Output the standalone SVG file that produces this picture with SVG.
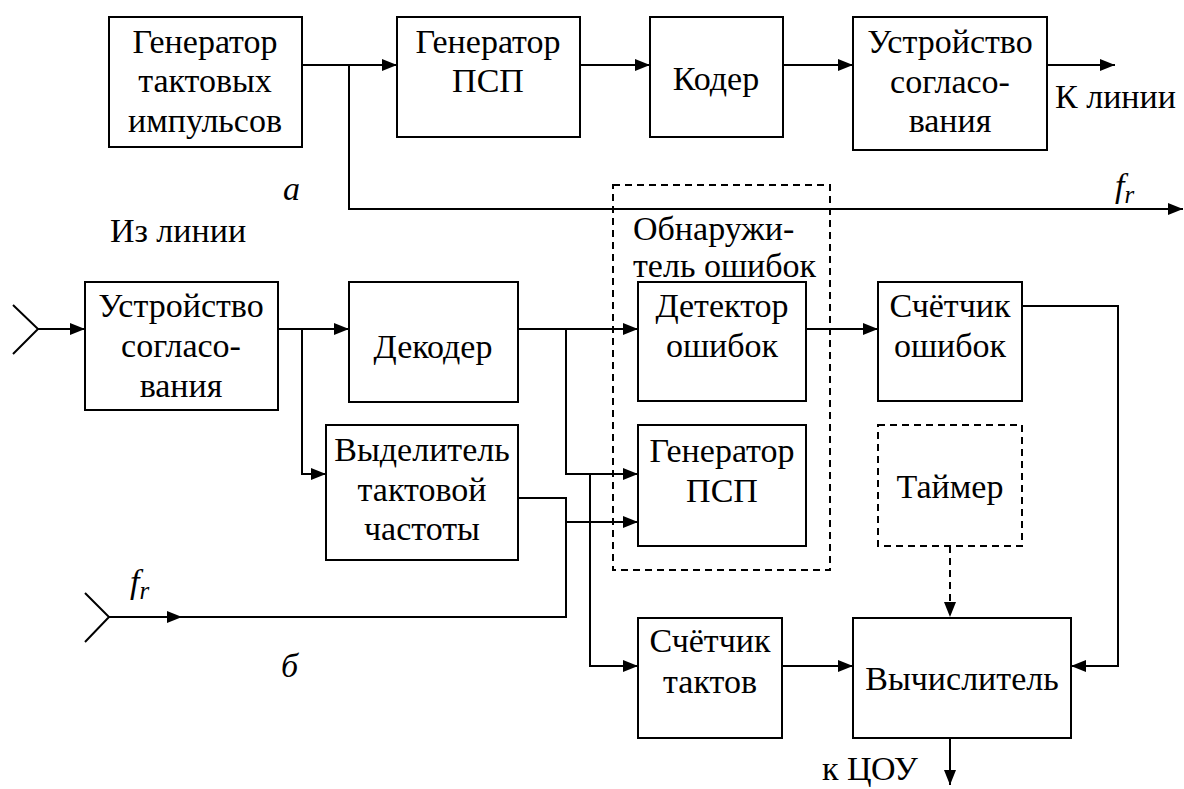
<svg xmlns="http://www.w3.org/2000/svg" width="1184" height="789" viewBox="0 0 1184 789">
<defs>
<marker id="arr" markerWidth="16" markerHeight="12" refX="15" refY="6" orient="auto" markerUnits="userSpaceOnUse">
<path d="M0,0 L15,6 L0,12 z" fill="#000"/>
</marker>
<style>
.box{fill:#fff;stroke:#000;stroke-width:2}
.dbox{fill:none;stroke:#000;stroke-width:2;stroke-dasharray:7,5}
.ln{fill:none;stroke:#000;stroke-width:2}
.dl{fill:none;stroke:#000;stroke-width:2;stroke-dasharray:7,5}
text{font-family:"Times New Roman","Liberation Serif",Tinos,"Noto Serif","DejaVu Serif",FreeSerif,serif;font-size:34px;fill:#000}
.c{text-anchor:middle}
.i{font-style:italic}
</style>
</defs>
<rect width="1184" height="789" fill="#fff"/>

<g id="connectors">
<line class="ln" x1="302" y1="65" x2="397" y2="65" marker-end="url(#arr)"/>
<polyline class="ln" points="349,65 349,209 1183,209" marker-end="url(#arr)"/>
<line class="ln" x1="580" y1="65" x2="650" y2="65" marker-end="url(#arr)"/>
<line class="ln" x1="783" y1="65" x2="853" y2="65" marker-end="url(#arr)"/>
<line class="ln" x1="1047" y1="65" x2="1115" y2="65" marker-end="url(#arr)"/>

<polyline class="ln" points="13,305 38,329 13,354"/>
<line class="ln" x1="38" y1="329" x2="85" y2="329" marker-end="url(#arr)"/>
<line class="ln" x1="278" y1="329" x2="349" y2="329" marker-end="url(#arr)"/>
<polyline class="ln" points="302,329 302,474 326,474" marker-end="url(#arr)"/>
<line class="ln" x1="518" y1="329" x2="638" y2="329" marker-end="url(#arr)"/>
<polyline class="ln" points="566,329 566,474 638,474" marker-end="url(#arr)"/>
<polyline class="ln" points="590,474 590,666 638,666" marker-end="url(#arr)"/>
<polyline class="ln" points="518,498 566,498 566,617 109,617"/>
<polyline class="ln" points="85,593 109,617 85,642"/>
<line class="ln" x1="109" y1="617" x2="182" y2="617" marker-end="url(#arr)"/>
<line class="ln" x1="566" y1="522" x2="638" y2="522" marker-end="url(#arr)"/>
<line class="ln" x1="806" y1="329" x2="878" y2="329" marker-end="url(#arr)"/>
<polyline class="ln" points="1022,306 1118,306 1118,666 1071,666" marker-end="url(#arr)"/>
<line class="dl" x1="950" y1="546" x2="950" y2="617" marker-end="url(#arr)"/>
<line class="ln" x1="782" y1="666" x2="853" y2="666" marker-end="url(#arr)"/>
<line class="ln" x1="950" y1="738" x2="950" y2="785" marker-end="url(#arr)"/>
</g>

<g id="labels">
<text class="i" x="283" y="200">а</text>
<text class="i" x="1115" y="197">f<tspan font-size="25" dy="6">r</tspan></text>
<text class="c" x="178" y="242">Из линии</text>
<text x="1055" y="108">К линии</text>
<text class="i" x="130" y="593">f<tspan font-size="25" dy="6">r</tspan></text>
<text class="i" x="281" y="677">б</text>
<text x="822" y="780">к ЦОУ</text>
</g>

<g id="n-gen-clock">
<rect class="box" x="109" y="17" width="193" height="130"/>
<text class="c" x="205" y="53">Генератор</text>
<text class="c" x="205" y="92">тактовых</text>
<text class="c" x="205" y="132">импульсов</text>
</g>
<g id="n-gen-psp-a">
<rect class="box" x="397" y="17" width="183" height="120"/>
<text class="c" x="488" y="53">Генератор</text>
<text class="c" x="488" y="92">ПСП</text>
</g>
<g id="n-coder">
<rect class="box" x="650" y="17" width="133" height="120"/>
<text class="c" x="716" y="90">Кодер</text>
</g>
<g id="n-match-a">
<rect class="box" x="853" y="17" width="194" height="133"/>
<text class="c" x="950" y="53">Устройство</text>
<text class="c" x="950" y="93">согласо-</text>
<text class="c" x="950" y="132">вания</text>
</g>

<g id="n-detector-group">
<rect class="dbox" x="613" y="185" width="217" height="385"/>
<text x="633" y="240">Обнаружи-</text>
<text x="633" y="277">тель ошибок</text>
</g>
<g id="n-match-b">
<rect class="box" x="85" y="282" width="193" height="128"/>
<text class="c" x="181" y="317">Устройство</text>
<text class="c" x="181" y="357">согласо-</text>
<text class="c" x="181" y="397">вания</text>
</g>
<g id="n-decoder">
<rect class="box" x="349" y="282" width="169" height="120"/>
<text class="c" x="433" y="358">Декодер</text>
</g>
<g id="n-clock-extract">
<rect class="box" x="326" y="425" width="192" height="135"/>
<text class="c" x="422" y="461">Выделитель</text>
<text class="c" x="422" y="501">тактовой</text>
<text class="c" x="422" y="540">частоты</text>
</g>
<g id="n-error-detector">
<rect class="box" x="638" y="282" width="168" height="119"/>
<text class="c" x="722" y="317">Детектор</text>
<text class="c" x="722" y="357">ошибок</text>
</g>
<g id="n-gen-psp-b">
<rect class="box" x="638" y="425" width="168" height="121"/>
<text class="c" x="722" y="462">Генератор</text>
<text class="c" x="722" y="502">ПСП</text>
</g>
<g id="n-error-counter">
<rect class="box" x="878" y="282" width="144" height="119"/>
<text class="c" x="950" y="317">Счётчик</text>
<text class="c" x="950" y="357">ошибок</text>
</g>
<g id="n-timer">
<rect class="dbox" x="878" y="425" width="144" height="121"/>
<text class="c" x="950" y="498">Таймер</text>
</g>
<g id="n-tick-counter">
<rect class="box" x="638" y="618" width="144" height="120"/>
<text class="c" x="710" y="652">Счётчик</text>
<text class="c" x="710" y="693">тактов</text>
</g>
<g id="n-calc">
<rect class="box" x="853" y="618" width="218" height="120"/>
<text class="c" x="962" y="690">Вычислитель</text>
</g>
</svg>
